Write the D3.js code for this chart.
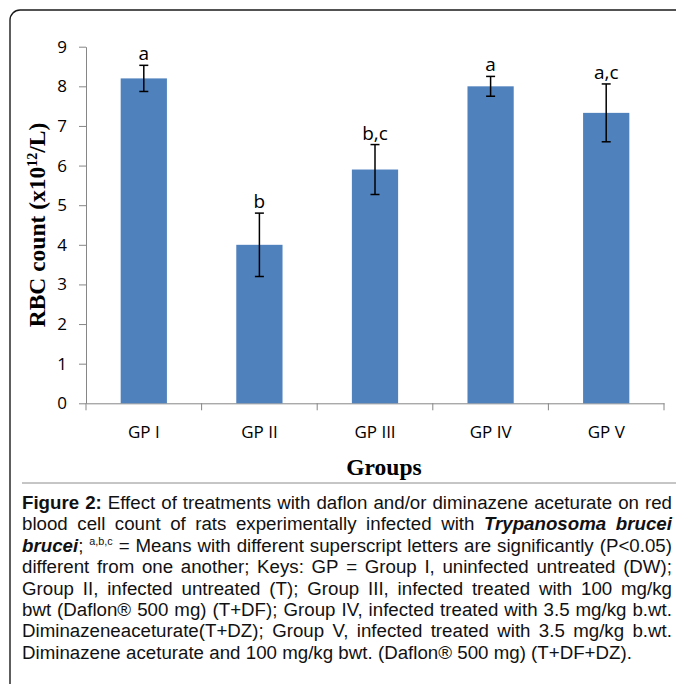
<!DOCTYPE html>
<html>
<head>
<meta charset="utf-8">
<script src="https://cdn.jsdelivr.net/npm/d3@7"></script>
<style>
  body { margin: 0; background: #fff; }
  svg { display: block; }
</style>
</head>
<body>
<script>
// RBC count per group (x10^12/L): means, error bars and significance letters
const groups = ["GP I", "GP II", "GP III", "GP IV", "GP V"];
const rbcMeans = [8.2, 4.0, 5.9, 8.0, 7.33];
const rbcErrors = [0.33, 0.8, 0.63, 0.25, 0.73];
const sigLetters = ["a", "b", "b,c", "a", "a,c"];
const yTicks = [0, 1, 2, 3, 4, 5, 6, 7, 8, 9];

// Figure caption, one entry per justified line: [text, style]
const captionLines = [
  [["Figure 2:", "b"], [" Effect of treatments with daflon and/or diminazene aceturate on red", ""]],
  [["blood cell count of rats experimentally infected with ", ""], ["Trypanosoma brucei", "bi"]],
  [["brucei", "bi"], ["; ", ""], ["a,b,c", "sup"], [" = Means with different superscript letters are significantly (P<0.05)", ""]],
  [["different from one another; Keys: GP = Group I, uninfected untreated (DW);", ""]],
  [["Group II, infected untreated (T); Group III, infected treated with 100 mg/kg", ""]],
  [["bwt (Daflon\u00AE 500 mg) (T+DF); Group IV, infected treated with 3.5 mg/kg b.wt.", ""]],
  [["Diminazeneaceturate(T+DZ); Group V, infected treated with 3.5 mg/kg b.wt.", ""]],
  [["Diminazene aceturate and 100 mg/kg bwt. (Daflon\u00AE 500 mg) (T+DF+DZ).", ""]]
];

const W = 676, H = 684;
const axisGrey = "#868686";
const barBlue = "#4f81bd";
const sansUI = "'Open Sans', 'Noto Sans', sans-serif";
const serif = "'Liberation Serif', 'Times New Roman', serif";

const svg = d3.select("body").append("svg")
  .attr("width", W).attr("height", H);

// Outer frame (rounded corner at top-left, runs off the right and bottom)
svg.append("rect")
  .attr("x", 10).attr("y", 10)
  .attr("width", W + 20).attr("height", H + 20)
  .attr("rx", 10)
  .attr("fill", "none")
  .attr("stroke", "#1a1a1a")
  .attr("stroke-width", 1.4);

// Rule between chart and caption
svg.append("line")
  .attr("x1", 22).attr("x2", W)
  .attr("y1", 483).attr("y2", 483)
  .attr("stroke", "#8c8c8c").attr("stroke-width", 1);

// Scales
const x = d3.scaleBand().domain(groups).range([86, 664]).paddingInner(0.6).paddingOuter(0.3);
const y = d3.scaleLinear().domain([0, 9]).range([403.3, 46.7]);

// Y axis
const yAxis = svg.append("g")
  .attr("transform", `translate(${x.range()[0]},0)`)
  .call(d3.axisLeft(y).tickValues(yTicks).tickSize(7).tickSizeOuter(0).tickPadding(12));
yAxis.select(".domain").attr("stroke", axisGrey);
yAxis.selectAll(".tick line").attr("stroke", axisGrey);
yAxis.selectAll(".tick text")
  .attr("font-family", sansUI).attr("font-size", 17).attr("fill", "#000");

// X axis (labels centred in bands, ticks on band boundaries)
const xAxis = svg.append("g")
  .attr("transform", `translate(0,${y(0)})`)
  .call(d3.axisBottom(x).tickSize(0).tickSizeOuter(0).tickPadding(22.5));
xAxis.select(".domain").attr("stroke", axisGrey);
xAxis.selectAll(".tick text")
  .attr("font-family", sansUI).attr("font-size", 17).attr("fill", "#000");

const boundaries = groups.map(g => x(g) + x.bandwidth() / 2 - x.step() / 2);
boundaries.push(boundaries[boundaries.length - 1] + x.step());
xAxis.selectAll("line.boundary")
  .data(boundaries)
  .join("line")
  .attr("class", "boundary")
  .attr("x1", d => d).attr("x2", d => d)
  .attr("y1", 0).attr("y2", 7)
  .attr("stroke", axisGrey);

const rows = groups.map((g, i) => ({ g, v: rbcMeans[i], e: rbcErrors[i], s: sigLetters[i] }));

// Bars
svg.append("g").selectAll("rect")
  .data(rows)
  .join("rect")
  .attr("x", d => x(d.g))
  .attr("y", d => y(d.v))
  .attr("width", x.bandwidth())
  .attr("height", d => y(0) - y(d.v))
  .attr("fill", barBlue);

// Error bars
const err = svg.append("g").attr("stroke", "#000").attr("stroke-width", 1.5);
const cx = d => x(d.g) + x.bandwidth() / 2;
err.selectAll("line.stem").data(rows).join("line").attr("class", "stem")
  .attr("x1", cx).attr("x2", cx)
  .attr("y1", d => y(d.v + d.e)).attr("y2", d => y(d.v - d.e));
err.selectAll("line.capTop").data(rows).join("line").attr("class", "capTop")
  .attr("x1", d => cx(d) - 4.5).attr("x2", d => cx(d) + 4.5)
  .attr("y1", d => y(d.v + d.e)).attr("y2", d => y(d.v + d.e));
err.selectAll("line.capBot").data(rows).join("line").attr("class", "capBot")
  .attr("x1", d => cx(d) - 4.5).attr("x2", d => cx(d) + 4.5)
  .attr("y1", d => y(d.v - d.e)).attr("y2", d => y(d.v - d.e));

// Significance letters
svg.append("g").selectAll("text")
  .data(rows)
  .join("text")
  .attr("x", cx)
  .attr("y", d => y(d.v + d.e) - 5)
  .attr("text-anchor", "middle")
  .attr("font-family", sansUI)
  .attr("font-size", 19)
  .attr("fill", "#000")
  .text(d => d.s);

// Axis titles
const yTitle = svg.append("text")
  .attr("transform", `translate(45,${(y.range()[0] + y.range()[1]) / 2}) rotate(-90)`)
  .attr("text-anchor", "middle")
  .attr("font-family", serif)
  .attr("font-weight", "bold")
  .attr("font-size", 23.5)
  .attr("fill", "#000");
yTitle.append("tspan").text("RBC count (x10");
yTitle.append("tspan").attr("font-size", 14).attr("dy", -8).text("12");
yTitle.append("tspan").attr("dy", 8).text("/L)");

svg.append("text")
  .attr("x", 384).attr("y", 475)
  .attr("text-anchor", "middle")
  .attr("font-family", serif)
  .attr("font-weight", "bold")
  .attr("font-size", 23.5)
  .attr("fill", "#000")
  .text("Groups");

// Caption: justified lines built word by word
const capLeft = 22, capRight = 672, lastLineEnd = 632;
const capTop = 509, capLead = 21.4;
const capFont = "'Liberation Sans', Arial, sans-serif";
const capSize = 19;

const cap = svg.append("g")
  .attr("font-family", capFont)
  .attr("font-size", capSize)
  .attr("fill", "#111");

function toWords(line) {
  const words = [];
  let cur = [];
  line.forEach(([t, s]) => {
    t.split(" ").forEach((p, i) => {
      if (i > 0) { if (cur.length) words.push(cur); cur = []; }
      if (p) cur.push([p, s]);
    });
  });
  if (cur.length) words.push(cur);
  return words;
}

// Width of a space in the caption font
const probe = cap.append("text");
probe.text("a a");
const wAA = probe.node().getComputedTextLength();
probe.text("aa");
const spaceW = wAA - probe.node().getComputedTextLength();
probe.remove();

const lineGroups = captionLines.map((line, li) => {
  const gLine = cap.append("g");
  const words = toWords(line).map(pieces => {
    const t = gLine.append("text").attr("y", capTop + li * capLead);
    let shifted = false;
    pieces.forEach(([p, s]) => {
      const ts = t.append("tspan").text(p);
      if (s === "b") ts.attr("font-weight", "bold");
      if (s === "bi") ts.attr("font-weight", "bold").attr("font-style", "italic");
      if (s === "sup") { ts.attr("font-size", capSize * 0.58).attr("dy", -7); shifted = true; }
      else if (shifted) { ts.attr("dy", 7); shifted = false; }
    });
    return { el: t, w: t.node().getComputedTextLength() };
  });
  return { gLine, words };
});

// Horizontal condensation from the natural width of the final line
const last = lineGroups[lineGroups.length - 1];
const lastNatural = d3.sum(last.words, d => d.w) + spaceW * (last.words.length - 1);
const k = (lastLineEnd - capLeft) / lastNatural;
cap.attr("transform", `translate(${capLeft},0) scale(${k},1)`);

const fullWidth = (capRight - capLeft) / k;
lineGroups.forEach((lg, li) => {
  const total = d3.sum(lg.words, d => d.w);
  const n = lg.words.length;
  const gap = (li === lineGroups.length - 1 || n < 2) ? spaceW : (fullWidth - total) / (n - 1);
  let pos = 0;
  lg.words.forEach(wd => {
    wd.el.attr("x", pos);
    pos += wd.w + gap;
  });
});
</script>
</body>
</html>
